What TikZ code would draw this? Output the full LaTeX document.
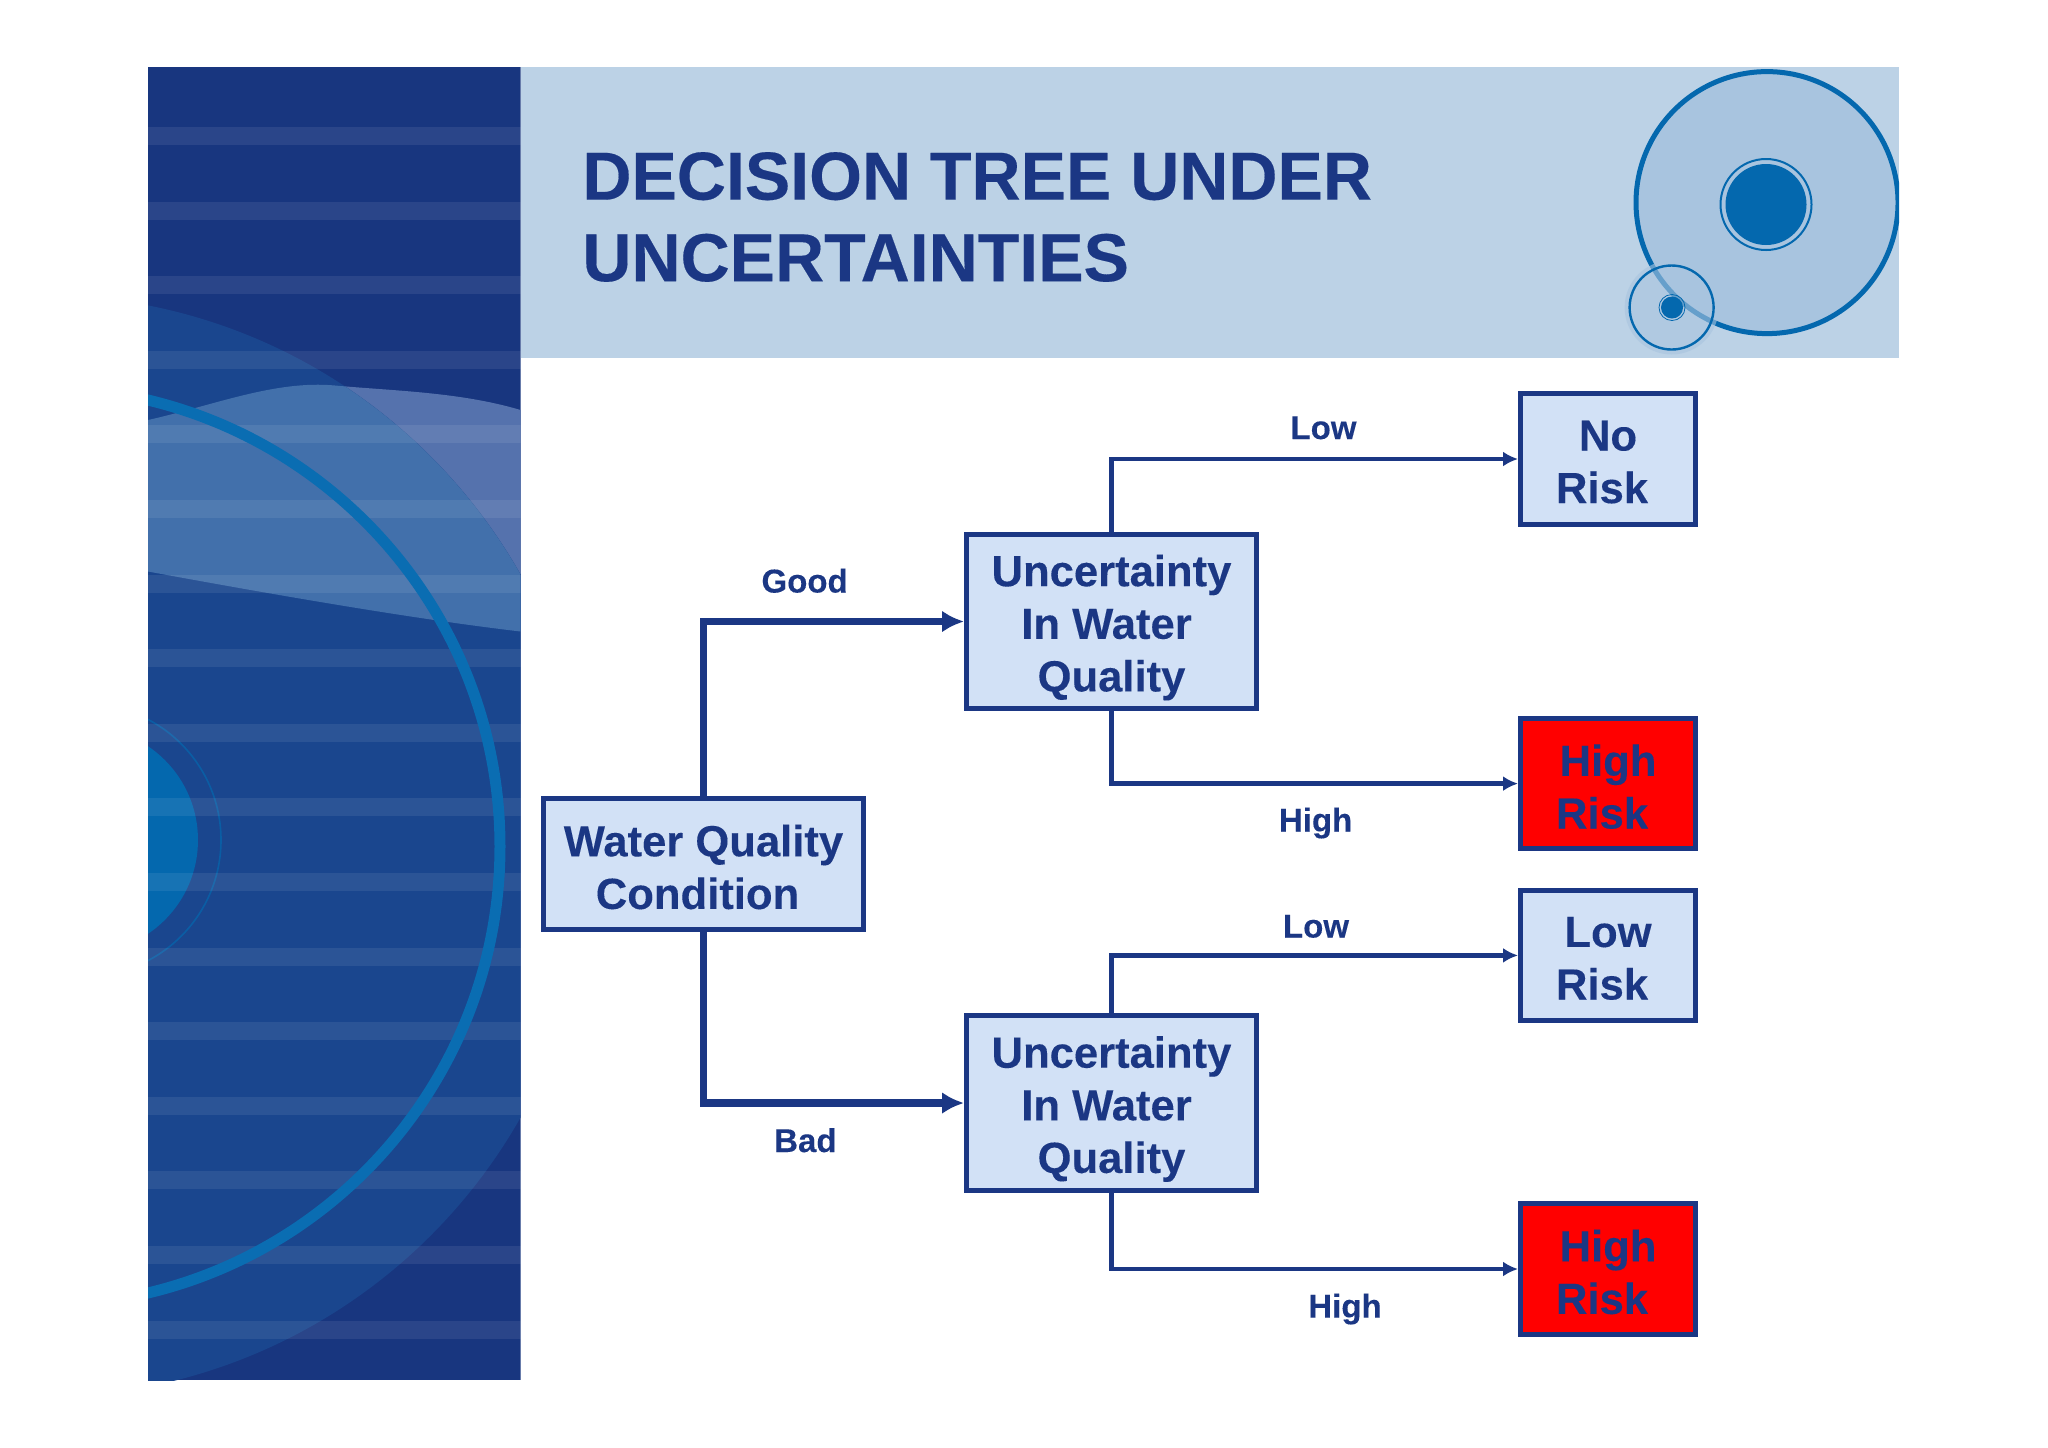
\documentclass[tikz,border=0pt]{standalone}
\usepackage{fontspec}
\setmainfont{Liberation Sans}
\usetikzlibrary{arrows.meta}
\definecolor{navy}{HTML}{1B3784}
\definecolor{panelDark}{HTML}{18367F}
\definecolor{panelHalo}{HTML}{1A468E}
\definecolor{ringBlue}{HTML}{0468AE}
\definecolor{ringBig}{HTML}{0A6DB2}
\definecolor{headerBlue}{HTML}{BCD2E6}
\definecolor{discBlue}{HTML}{A8C4DF}
\definecolor{boxBlue}{HTML}{D2E1F6}
\definecolor{waveOut}{HTML}{5572AD}
\definecolor{waveIn}{HTML}{4270AB}
\definecolor{riskRed}{HTML}{FF0000}
\newcommand{\dnA}[1]{\raisebox{-1.5pt}[\height][\depth]{#1}}
\newcommand{\dnB}[1]{\raisebox{-3pt}[\height][\depth]{#1}}
\tikzset{
  basebox/.style={draw=navy,line width=2.5pt,inner sep=0pt,align=center,
    text=navy,font=\fontsize{21.8}{26.3}\selectfont\bfseries\addfontfeature{FakeBold=0.15}},
  wqbox/.style={basebox,fill=boxBlue,minimum width=160pt,minimum height=65.5pt},
  uncbox/.style={basebox,fill=boxBlue,minimum width=145pt,minimum height=87.25pt},
  leafbox/.style={basebox,fill=boxBlue,minimum width=87.5pt,minimum height=65.25pt},
  redbox/.style={leafbox,fill=riskRed},
  lab/.style={anchor=base,inner sep=0pt,text=navy,font=\fontsize{16.5}{20}\selectfont\bfseries\addfontfeature{FakeBold=0.15}},
  thickconn/.style={draw=navy,line width=3.75pt,-{Latex[length=11pt,width=11pt,sharp]}},
  thinconn/.style={draw=navy,line width=2.3pt,-{Latex[length=7.5pt,width=7.5pt,sharp]}},
}
\begin{document}
\begin{tikzpicture}[x=0.5pt,y=-0.5pt]
\useasboundingbox (0,0) rectangle (2048,1447);
\fill[white] (0,0) rectangle (2048,1447);
% left panel
\begin{scope}
  \clip (148,66.5) rectangle (520.6,1380);
  \fill[panelDark] (148,66.5) rectangle (520.6,1380);
  \fill[waveOut] (148,420) .. controls (215,405) and (275,380) .. (335,385.5)
     .. controls (395,391) and (460,392) .. (520.6,410) -- (520.6,631.5)
     .. controls (440,622) and (330,605) .. (148,571.5) -- cycle;
  \fill[panelHalo] (41,846) circle[radius=551];
  \begin{scope}
    \clip (41,846) circle[radius=551];
    \fill[waveIn] (148,420) .. controls (215,405) and (275,380) .. (335,385.5)
       .. controls (395,391) and (460,392) .. (520.6,410) -- (520.6,631.5)
       .. controls (440,622) and (330,605) .. (148,571.5) -- cycle;
  \end{scope}
  \fill[ringBlue] (85,840) circle[radius=113];
  \draw[ringBlue,line width=0.8pt,opacity=0.7] (85,840) circle[radius=136];
  \foreach \k in {0,...,16} {
    \fill[white,opacity=0.08] (148,127+74.6*\k) rectangle (520.6,145+74.6*\k);
  }
  \draw[ringBig,line width=5.5pt] (41,846.5) circle[radius=459];
\end{scope}
% header
\fill[headerBlue] (520.6,66.5) rectangle (1899,358.3);
\begin{scope}
  \clip (520.6,66.5) rectangle (1899,358.3);
  \draw[ringBlue,line width=2.5pt,fill=discBlue] (1767,202.6) circle[radius=131];
  \draw[ringBlue,line width=1pt] (1766,204.5) circle[radius=45.5];
  \fill[ringBlue] (1766,204.5) circle[radius=40.5];
  \fill[discBlue,opacity=0.6] (1671.6,307.5) circle[radius=47];
  \draw[ringBlue,line width=1.2pt] (1671.6,307.5) circle[radius=42];
  \draw[ringBlue,line width=0.4pt] (1672,307.5) circle[radius=13];
  \fill[ringBlue] (1672,307.5) circle[radius=11];
\end{scope}
\node[anchor=west,inner sep=0pt,align=left,text=navy,font=\fontsize{34}{40.8}\selectfont\bfseries\addfontfeature{FakeBold=0.25}] (title) at (582,217) {DECISION TREE UNDER\\UNCERTAINTIES};
% nodes
\node[wqbox] (wq) at (703.5,864) {\dnA{Water Quality}\\\dnA{Condition\kern6pt}};
\node[uncbox] (unc1) at (1111.5,621.5) {\dnB{Uncertainty}\\\dnB{In Water\kern5pt}\\\dnB{Quality}};
\node[uncbox] (unc2) at (1111.5,1103) {\dnB{Uncertainty}\\\dnB{In Water\kern5pt}\\\dnB{Quality}};
\node[leafbox] (norisk) at (1608,459) {\dnA{No}\\\dnA{Risk\kern6pt}};
\node[redbox] (high1) at (1608,783.6) {\dnA{High}\\\dnA{Risk\kern6pt}};
\node[leafbox] (lowrisk) at (1608,955.4) {\dnA{Low}\\\dnA{Risk\kern6pt}};
\node[redbox] (high2) at (1608,1269) {\dnA{High}\\\dnA{Risk\kern6pt}};
% connectors
\draw[thickconn] (wq.north) |- (unc1.west);
\draw[thickconn] (wq.south) |- (unc2.west);
\draw[thinconn] (unc1.north) |- (norisk.west);
\draw[thinconn] (unc1.south) |- (high1.west);
\draw[thinconn] (unc2.north) |- (lowrisk.west);
\draw[thinconn] (unc2.south) |- (high2.west);
% labels
\node[lab] (lgood) at (804.6,592.5) {Good};
\node[lab] (lbad) at (805.4,1152) {Bad};
\node[lab] (llow1) at (1323.5,439) {Low};
\node[lab] (lhigh1) at (1315.6,831.5) {High};
\node[lab] (llow2) at (1316,937.5) {Low};
\node[lab] (lhigh2) at (1345,1317.5) {High};
\end{tikzpicture}
\end{document}
